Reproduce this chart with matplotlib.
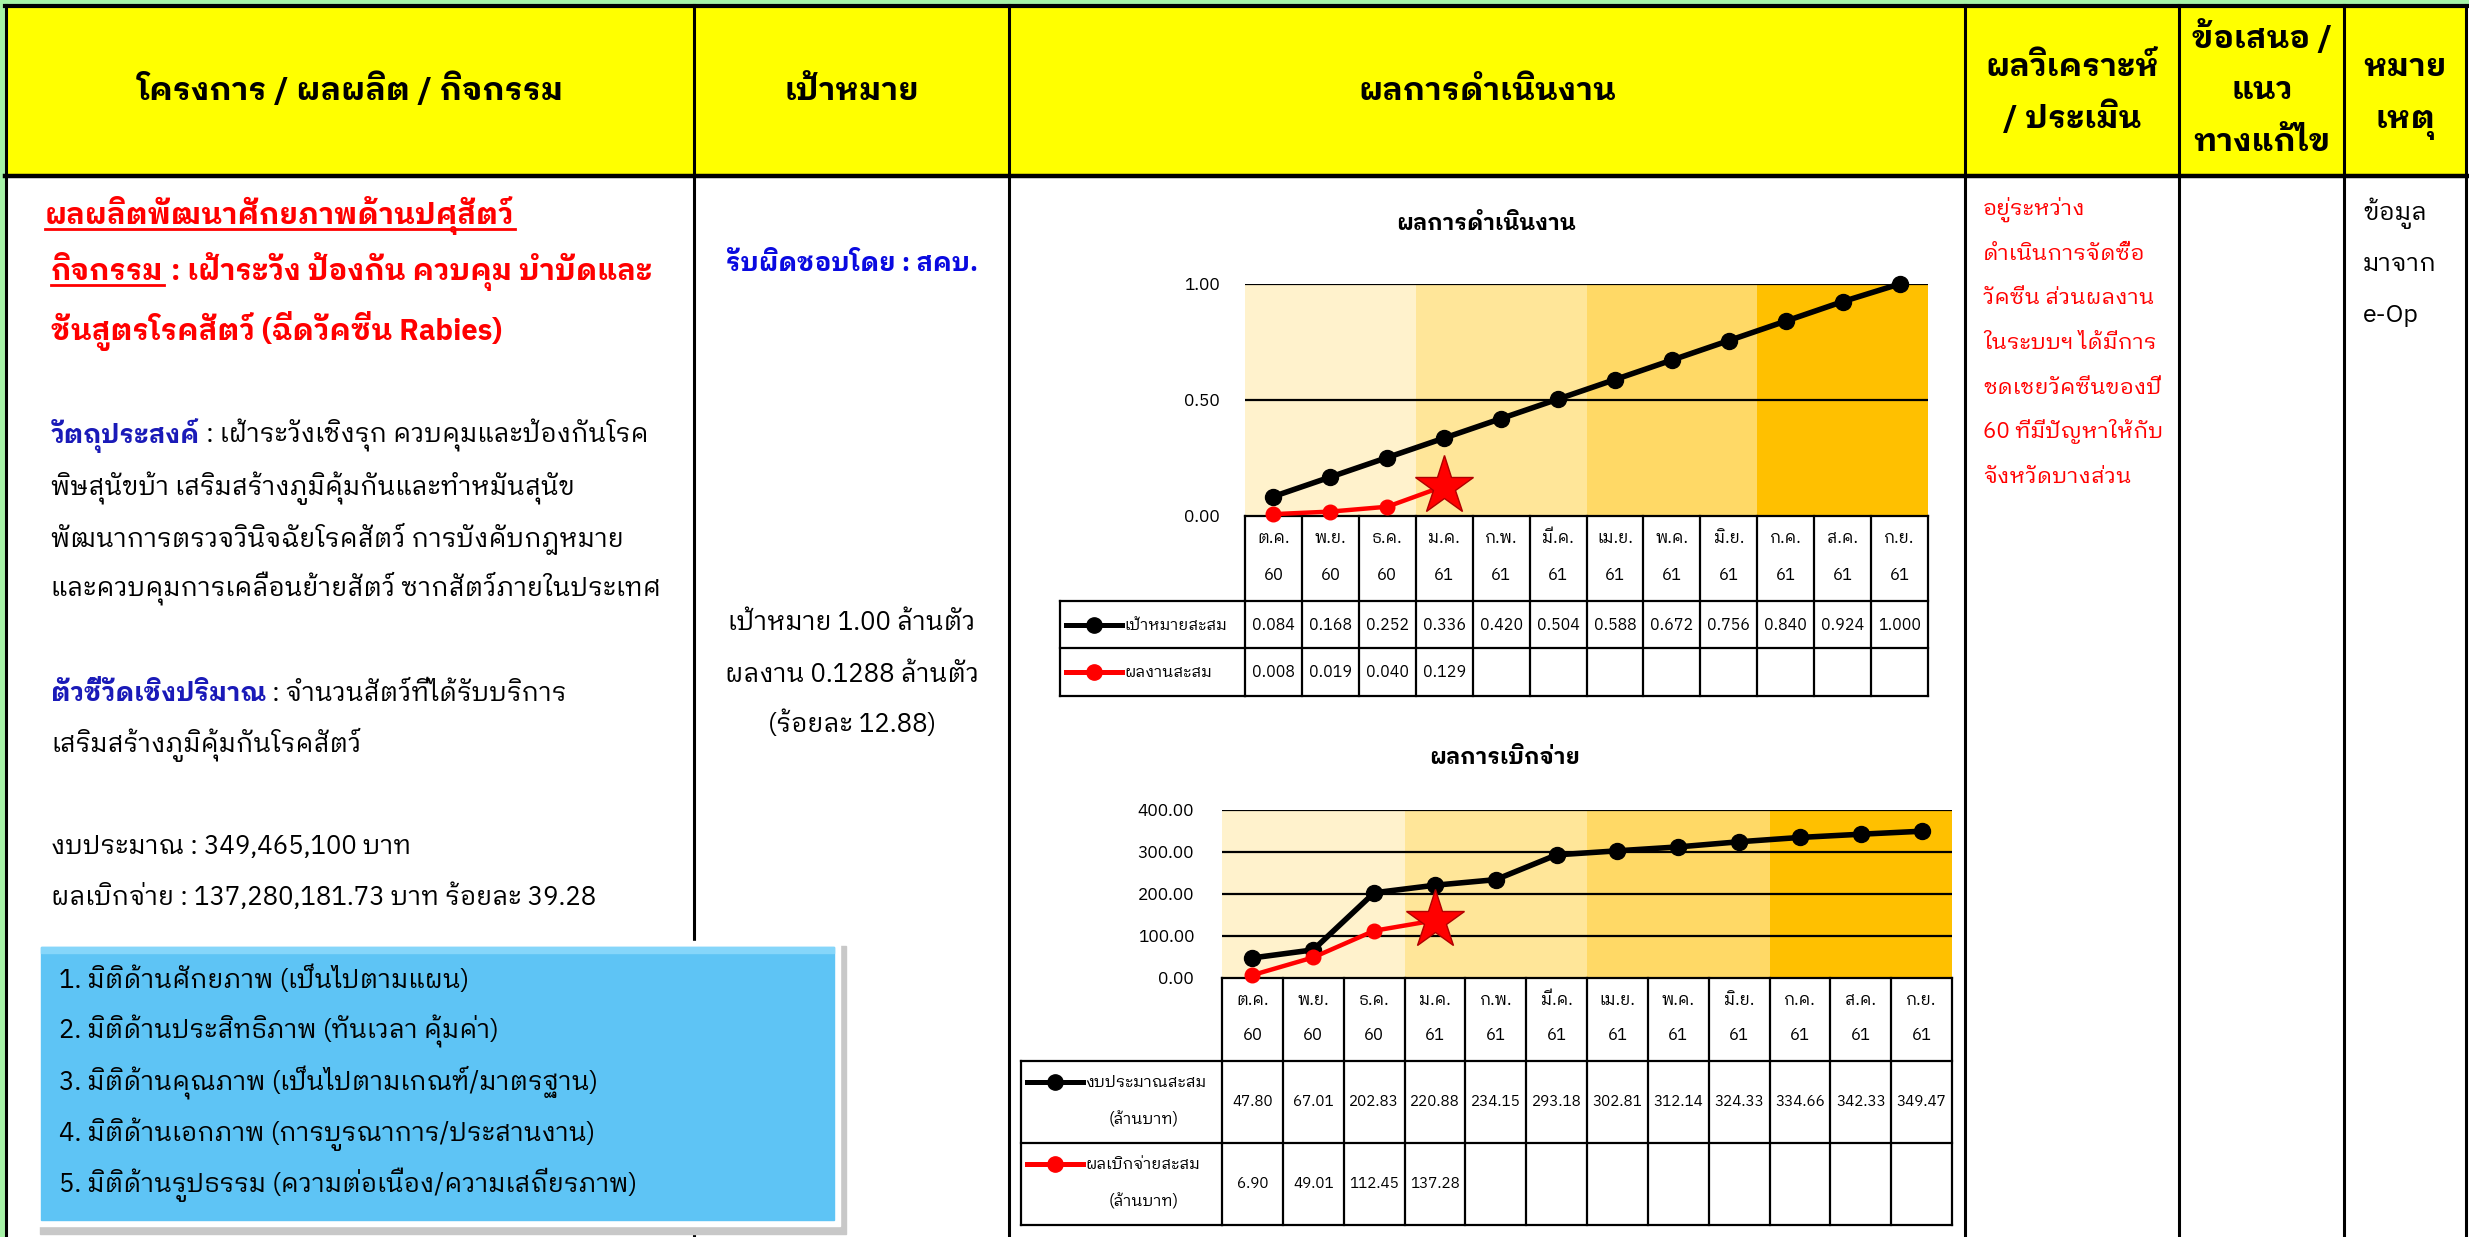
import matplotlib
matplotlib.use('Agg')
import matplotlib.pyplot as plt
from matplotlib.patches import Rectangle
from matplotlib.transforms import blended_transform_factory

W, H = 2469, 1237
plt.rcParams['font.family'] = ['IBM Plex Sans Thai Looped', 'DejaVu Sans']

# ข้อมูลรายเดือน
months = ['ต.ค.', 'พ.ย.', 'ธ.ค.', 'ม.ค.', 'ก.พ.', 'มี.ค.', 'เม.ย.', 'พ.ค.', 'มิ.ย.', 'ก.ค.', 'ส.ค.', 'ก.ย.']
years = ['60', '60', '60', '61', '61', '61', '61', '61', '61', '61', '61', '61']
target_cum = [0.084, 0.168, 0.252, 0.336, 0.420, 0.504, 0.588, 0.672, 0.756, 0.840, 0.924, 1.000]
result_cum = [0.008, 0.019, 0.040, 0.129]
budget_cum = [47.80, 67.01, 202.83, 220.88, 234.15, 293.18, 302.81, 312.14, 324.33, 334.66, 342.33, 349.47]
spent_cum = [6.90, 49.01, 112.45, 137.28]
ticks_1 = [0.0, 0.5, 1.0]
ticks_2 = [0.0, 100.0, 200.0, 300.0, 400.0]

band_colors = ['#FFF2CC', '#FFE699', '#FFD966', '#FFC000']
RED = '#FF0000'

fig = plt.figure(figsize=(W / 100, H / 100), dpi=100)
page = fig.add_axes([0, 0, 1, 1])
page.set_xlim(0, W)
page.set_ylim(H, 0)
page.axis('off')
renderer = fig.canvas.get_renderer()

# กรอบตาราง
page.add_patch(Rectangle((0, 0), 5, H, color='#A6F2A6', zorder=1))
page.add_patch(Rectangle((0, 0), W, 4, color='#A6F2A6', zorder=1))
page.add_patch(Rectangle((6, 6), W - 9, 170, color='#FFFF00', zorder=1))
for x in [6, 694, 1009, 1965, 2179, 2344, 2466]:
    page.plot([x, x], [5, H], color='black', lw=2.2, zorder=3)
page.plot([5, 2467], [6, 6], color='black', lw=3, zorder=3)
page.plot([5, 2467], [176, 176], color='black', lw=3.2, zorder=3)

# หัวตาราง
header = [(350, [(100, 'โครงการ / ผลผลิต / กิจกรรม')]),
          (852, [(100, 'เป้าหมาย')]),
          (1487, [(100, 'ผลการดำเนินงาน')]),
          (2072, [(76, 'ผลวิเคราะห์'), (128, '/ ประเมิน')]),
          (2262, [(48, 'ข้อเสนอ /'), (99, 'แนว'), (151, 'ทางแก้ไข')]),
          (2405, [(76, 'หมาย'), (128, 'เหตุ')])]
for hx, lines in header:
    for hy, s in lines:
        page.text(hx, hy, s, ha='center', va='baseline', fontsize=23, fontweight='bold', zorder=4)


def runs(x, y, parts, size):
    inv = page.transData.inverted()
    for s, c, wgt, ul in parts:
        t = page.text(x, y, s, color=c, fontsize=size, fontweight=wgt, ha='left', va='baseline', zorder=6)
        bb = t.get_window_extent(renderer)
        xa = inv.transform((bb.x0, bb.y0))[0]
        xb = inv.transform((bb.x1, bb.y0))[0]
        if ul:
            page.plot([xa, xb], [y + 5, y + 5], color=c, lw=2, zorder=6)
        x = xb


# คอลัมน์ที่ 1
runs(45, 224, [('ผลผลิตพัฒนาศักยภาพด้านปศุสัตว์', RED, 'bold', True)], 21)
runs(51, 280, [('กิจกรรม', RED, 'bold', True),
               (' : เฝ้าระวัง ป้องกัน ควบคุม บำบัดและ', RED, 'bold', False)], 21)
runs(51, 340, [('ชันสูตรโรคสัตว์ (ฉีดวัคซีน Rabies)', RED, 'bold', False)], 21)
runs(51, 443, [('วัตถุประสงค์', '#1A1AB8', 'bold', False),
               (' : เฝ้าระวังเชิงรุก ควบคุมและป้องกันโรค', 'black', 'normal', False)], 18.5)
runs(51, 495, [('พิษสุนัขบ้า เสริมสร้างภูมิคุ้มกันและทำหมันสุนัข', 'black', 'normal', False)], 18.5)
runs(51, 547, [('พัฒนาการตรวจวินิจฉัยโรคสัตว์ การบังคับกฎหมาย', 'black', 'normal', False)], 18.5)
runs(51, 597, [('และควบคุมการเคลื่อนย้ายสัตว์ ซากสัตว์ภายในประเทศ', 'black', 'normal', False)], 18.5)
runs(51, 701, [('ตัวชี้วัดเชิงปริมาณ', '#1A1AB8', 'bold', False),
               (' : จำนวนสัตว์ที่ได้รับบริการ', 'black', 'normal', False)], 18.5)
runs(51, 752, [('เสริมสร้างภูมิคุ้มกันโรคสัตว์', 'black', 'normal', False)], 18.5)
runs(51, 854, [('งบประมาณ : 349,465,100 บาท', 'black', 'normal', False)], 18.5)
runs(51, 905, [('ผลเบิกจ่าย : 137,280,181.73 บาท ร้อยละ 39.28', 'black', 'normal', False)], 18.5)

# กล่องมิติ
page.add_patch(Rectangle((40, 946), 806, 288, color='#C8C8C8', zorder=4))
page.add_patch(Rectangle((35, 941), 805, 285, color='white', zorder=4))
page.add_patch(Rectangle((41, 947), 793, 273, color='#5EC4F5', zorder=5))
page.add_patch(Rectangle((41, 947), 793, 6, color='#86D6FA', zorder=5))
dims = ['1. มิติด้านศักยภาพ (เป็นไปตามแผน)',
        '2. มิติด้านประสิทธิภาพ (ทันเวลา คุ้มค่า)',
        '3. มิติด้านคุณภาพ (เป็นไปตามเกณฑ์/มาตรฐาน)',
        '4. มิติด้านเอกภาพ (การบูรณาการ/ประสานงาน)',
        '5. มิติด้านรูปธรรม (ความต่อเนื่อง/ความเสถียรภาพ)']
for i, s in enumerate(dims):
    page.text(59, 988 + 51 * i, s, fontsize=18.5, va='baseline', zorder=6)

# คอลัมน์ที่ 2
page.text(852, 271, 'รับผิดชอบโดย : สคบ.', ha='center', va='baseline', fontsize=18.5,
          fontweight='bold', color='#0A0AE0', zorder=6)
for y, s in zip([630, 682, 732], ['เป้าหมาย 1.00 ล้านตัว', 'ผลงาน 0.1288 ล้านตัว', '(ร้อยละ 12.88)']):
    page.text(852, y, s, ha='center', va='baseline', fontsize=18.5, zorder=6)

# คอลัมน์ผลวิเคราะห์ / หมายเหตุ
note = ['อยู่ระหว่าง', 'ดำเนินการจัดซื้อ', 'วัคซีน ส่วนผลงาน', 'ในระบบฯ ได้มีการ',
        'ชดเชยวัคซีนของปี', '60 ที่มีปัญหาให้กับ', 'จังหวัดบางส่วน']
for i, s in enumerate(note):
    page.text(1983, 215 + 44.7 * i, s, va='baseline', fontsize=16, color=RED, zorder=6)
for i, s in enumerate(['ข้อมูล', 'มาจาก', 'e-Op']):
    page.text(2363, 220 + 51 * i, s, va='baseline', fontsize=18, zorder=6)


def draw_chart(plot_px, pad, title, title_xy, plan, done, ticks, fmt, rows, month_y, leg, labels, vsize):
    x0, x1, yt, yb = plot_px
    ax = fig.add_axes([x0 / W, 1 - yb / H, (x1 - x0) / W, (yb - yt) / H])
    ax.set_xlim(-0.5, len(months) - 0.5)
    ax.set_ylim(ticks[0], ticks[-1])
    ax.patch.set_visible(False)
    for sp in ax.spines.values():
        sp.set_visible(False)
    for q in range(4):
        ax.axvspan(3 * q - 0.5, 3 * q + 2.5, color=band_colors[q], lw=0, zorder=0)
    for t in ticks[1:]:
        ax.axhline(t, color='black', lw=1.6, zorder=1)
    ax.set_xticks([])
    ax.set_yticks(ticks)
    ax.set_yticklabels(['%.2f' % t for t in ticks])
    ax.tick_params(axis='y', length=0, pad=pad, labelsize=12.5)

    ax.plot(range(len(plan)), plan, color='black', lw=4, marker='o', ms=11.5, zorder=4, clip_on=False)
    ax.plot(range(len(done)), done, color=RED, lw=3.2, marker='o', ms=10.5,
            markevery=list(range(len(done) - 1)), zorder=5, clip_on=False)
    ax.plot([len(done) - 1], [done[-1]], marker='*', ms=44, color=RED, mec='#B00000', mew=1,
            zorder=6, clip_on=False)
    page.text(title_xy[0], title_xy[1], title, ha='center', va='center', fontsize=16, fontweight='bold')

    # ตารางข้อมูลใต้กราฟ
    tr = blended_transform_factory(ax.transData, page.transData)
    r0, r1, r2, r3 = rows
    n = len(months)
    for y in rows:
        ax.plot([-0.5, n - 0.5], [y, y], color='black', lw=1.6, transform=tr, clip_on=False, zorder=3)
    for i in range(n + 1):
        ax.plot([i - 0.5, i - 0.5], [r0, r3], color='black', lw=1.6, transform=tr, clip_on=False, zorder=3)
    for y in [r1, r2, r3]:
        page.plot([leg[0], x0], [y, y], color='black', lw=1.6)
    page.plot([leg[0], leg[0]], [r1, r3], color='black', lw=1.6)
    for i in range(n):
        ax.text(i, month_y[0], months[i], transform=tr, ha='center', va='center', fontsize=12)
        ax.text(i, month_y[1], years[i], transform=tr, ha='center', va='center', fontsize=12)
    for i, v in enumerate(plan):
        ax.text(i, (r1 + r2) / 2, fmt % v, transform=tr, ha='center', va='center', fontsize=vsize)
    for i, v in enumerate(done):
        ax.text(i, (r2 + r3) / 2, fmt % v, transform=tr, ha='center', va='center', fontsize=vsize)

    # คำอธิบายเส้น
    lx0, lx1, ltx = leg
    for (top, bot), color, lab in zip([(r1, r2), (r2, r3)], ['black', RED], labels):
        if len(lab) == 1:
            ly = (top + bot) / 2
        else:
            ly = top + 21
        page.plot([lx0 + 6, lx1], [ly, ly], color=color, lw=3.6)
        page.plot([(lx0 + 6 + lx1) / 2], [ly], 'o', color=color, ms=11)
        page.text(ltx, ly, lab[0], va='center', fontsize=11.5)
        if len(lab) > 1:
            page.text((ltx + x0) / 2 - 10, ly + 37, lab[1], ha='center', va='center', fontsize=11.5)
    return ax


draw_chart((1245, 1928, 284, 516), 18, 'ผลการดำเนินงาน', (1486, 223), target_cum, result_cum,
           ticks_1, '%.3f', (516, 601, 648, 696), (538, 575), (1060, 1122, 1124),
           [['เป้าหมายสะสม'], ['ผลงานสะสม']], 11.5)
draw_chart((1222, 1952, 810, 978), 20, 'ผลการเบิกจ่าย', (1505, 757), budget_cum, spent_cum,
           ticks_2, '%.2f', (978, 1061, 1143, 1225), (1000, 1035), (1021, 1083, 1085),
           [['งบประมาณสะสม', '(ล้านบาท)'], ['ผลเบิกจ่ายสะสม', '(ล้านบาท)']], 11)

fig.savefig('out.png', dpi=100)
